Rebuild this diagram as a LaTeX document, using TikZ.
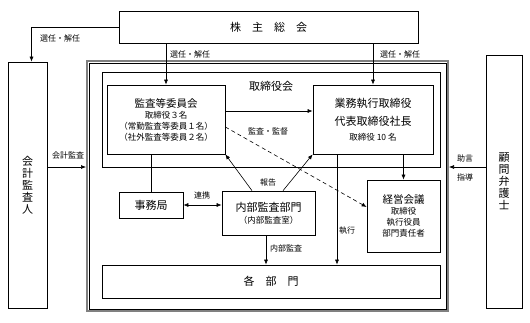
\documentclass[tikz,border=0pt]{standalone}
\usepackage{fontspec}
\setmainfont{Noto Sans CJK JP}
\usetikzlibrary{calc,arrows.meta}

\begin{document}
\begin{tikzpicture}[x=1pt, y=-1pt, font=\fontsize{8.5}{11}\selectfont,
	>={Latex[length=5pt,width=4pt]},
	box/.style={draw, line width=0.7pt, inner sep=0pt, align=center},
	lbl/.style={inner sep=1pt, font=\fontsize{8}{9.5}\selectfont},
	gross/.style={font=\fontsize{11}{12}\selectfont}]
	
	\useasboundingbox (0,0) rectangle (530,322);
	
	% ------------------------------------------------------------
	% Boxes
	% ------------------------------------------------------------
	
	\node[box, gross, minimum width=299pt, minimum height=32pt] (soukai) at (268.5,27)
	{株　主　総　会};
	
	\node[box, gross, minimum width=39pt, minimum height=246pt] (kansanin) at (27.5,185)
	{会\\計\\監\\査\\人};
	
	\node[box, gross, minimum width=36pt, minimum height=253pt] (komon) at (504,181.5)
	{顧\\問\\弁\\護\\士};
	
	\node[draw=gray, line width=2pt, minimum width=361pt, minimum height=250pt] (kaisha) at (267.5,186) {};
	\draw[line width=0.5pt]
	($(kaisha.north west)+(3,3)$) rectangle ($(kaisha.south east)+(-3,-3)$);
	
	\node[box, minimum width=338pt, minimum height=95pt] (torikai) at (271,119.5) {};
	\node[gross, inner sep=0pt] (torikaiLbl) at (271,86) {取締役会};
	
	\node[box, minimum width=118pt, minimum height=69pt] (iinkai) at (166,119.5)
	{{\fontsize{10.5}{12}\selectfont 監査等委員会}\\取締役３名\\（常勤監査等委員１名）\\（社外監査等委員２名）};
	
	\node[box, minimum width=120pt, minimum height=69pt] (shikko) at (373,119.5)
	{{\fontsize{11}{12}\selectfont 業務執行取締役}\\[7pt]{\fontsize{11}{12}\selectfont 代表取締役社長}\\[4pt]取締役 10 名};
	
	\node[box, gross, minimum width=64pt, minimum height=26pt] (jimu) at (151,205)
	{事務局};
	
	\node[box, minimum width=93pt, minimum height=44pt] (naibu) at (268.5,213)
	{{\fontsize{11}{12}\selectfont 内部監査部門}\\[1pt]（内部監査室）};
	
	\node[box, minimum width=73pt, minimum height=72pt] (keiei) at (403.5,216)
	{{\fontsize{10.5}{12}\selectfont 経営会議}\\取締役\\執行役員\\部門責任者};
	
	\node[box, gross, minimum width=338pt, minimum height=33pt] (kakubu) at (271,281.5)
	{各　部　門};
	
	% ------------------------------------------------------------
	% Connectors
	% ------------------------------------------------------------
	
	\draw[->, line width=0.6pt] (soukai.west) -| ([xshift=4pt]kansanin.north);
	\draw[->, line width=0.6pt] (soukai.south -| iinkai.north) -- (iinkai.north);
	\draw[->, line width=0.6pt] (soukai.south -| shikko.north) -- (shikko.north);
	
	\draw[->, line width=0.6pt]
	([yshift=8.5pt]iinkai.east) -- ([yshift=8.5pt]iinkai.east -| shikko.west);
	\draw[->, line width=0.6pt, dash pattern=on 4pt off 3pt]
	([yshift=-7.5pt]iinkai.east) -- ([yshift=9pt]keiei.west);
	
	\draw[line width=0.6pt] (jimu.north) -- (jimu.north |- iinkai.south);
	\draw[<->, line width=0.6pt] (jimu.east) -- (jimu.east -| naibu.west);
	
	\draw[->, line width=0.6pt] ([xshift=-16.5pt]naibu.north) -- (iinkai.south east);
	\draw[->, line width=0.6pt] ([xshift=14.5pt]naibu.north) -- (shikko.south west);
	\draw[->, line width=0.6pt] ([xshift=-2.5pt]naibu.south) -- ([xshift=-2.5pt]naibu.south |- kakubu.north);
	
	\draw[->, line width=0.6pt]
	([xshift=-36pt]shikko.south) -- ([xshift=-36pt]shikko.south |- kakubu.north);
	\draw[->, line width=0.6pt] (keiei.north |- shikko.south) -- (keiei.north);
	
	\draw[->, line width=0.6pt]
	([yshift=18pt]kansanin.east) -- ([yshift=18pt]kansanin.east -| kaisha.west);
	\draw[->, line width=0.6pt]
	([yshift=14.5pt]komon.west) -- ([yshift=14.5pt]komon.west -| kaisha.east);
	
	% ------------------------------------------------------------
	% Labels
	% ------------------------------------------------------------
	
	\node[lbl] (senninA) at (60,38) {選任・解任};
	\node[lbl] (senninB) at (190,54) {選任・解任};
	\node[lbl] (senninC) at (400,54) {選任・解任};
	\node[lbl] (kantoku) at (268,131) {監査・監督};
	\node[lbl] (renkei) at (202,195) {連携};
	\node[lbl] (houkoku) at (268,182) {報告};
	\node[lbl] (naibuLbl) at (286,248) {内部監査};
	\node[lbl] (shikkoLbl) at (347,231) {執行};
	\node[lbl] (kaikeiLbl) at (68,155) {会計監査};
	\node[lbl] (jogen) at (465,158) {助言};
	\node[lbl] (shidou) at (465,177) {指導};
\end{tikzpicture}
\end{document}
